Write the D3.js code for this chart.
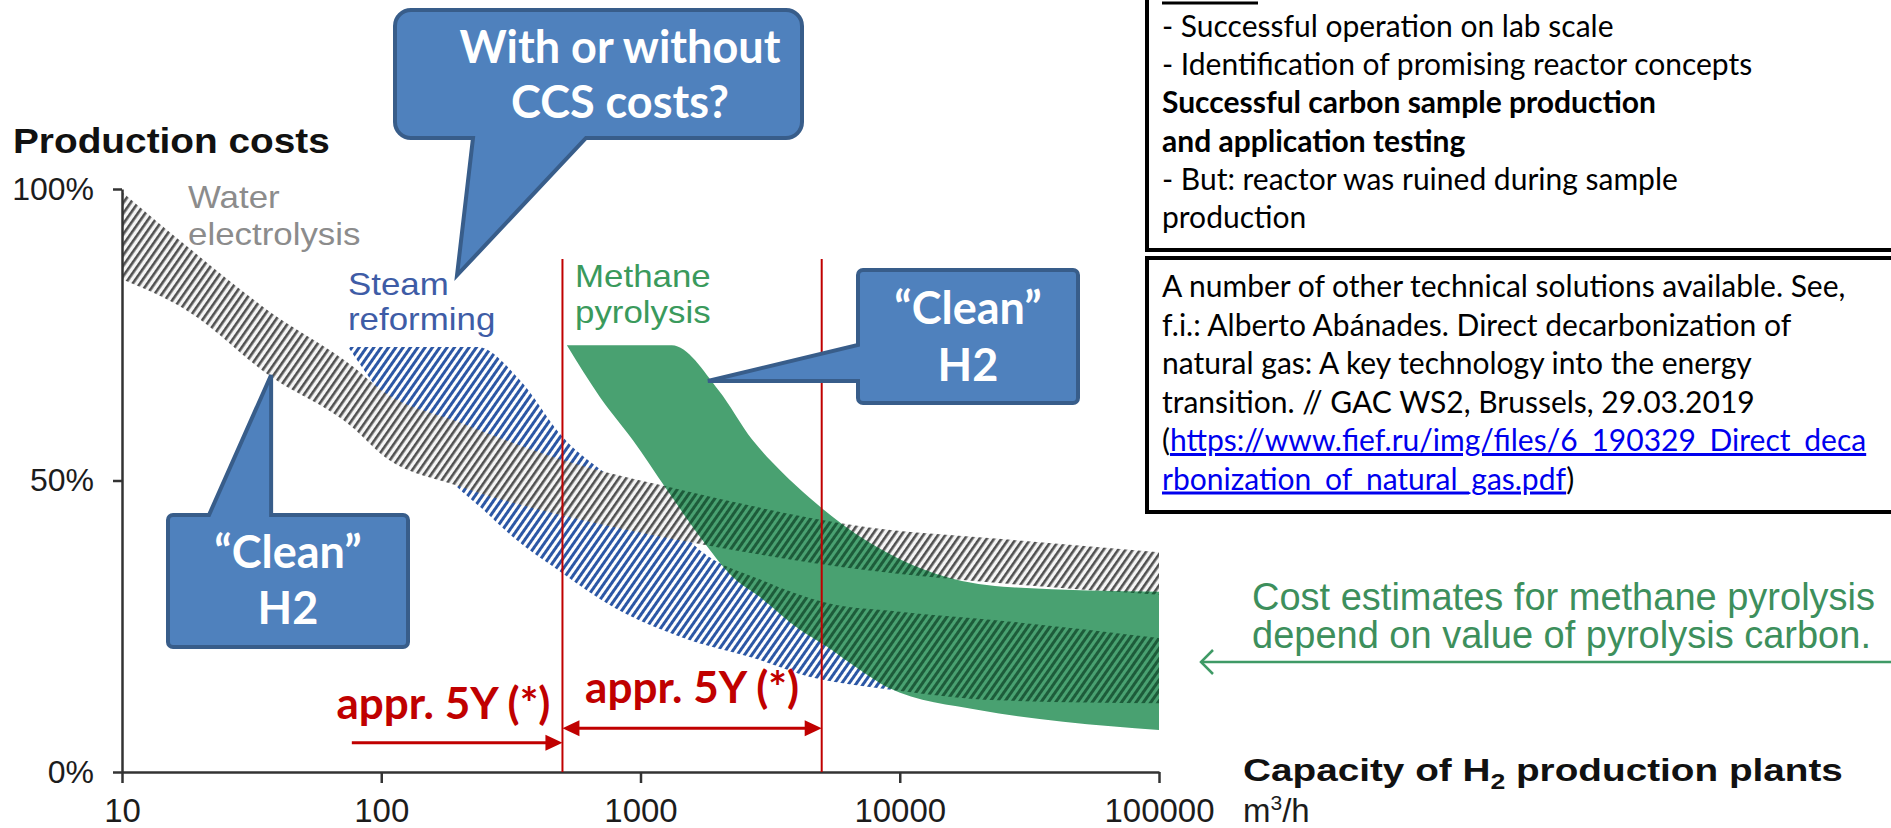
<!DOCTYPE html>
<html>
<head>
<meta charset="utf-8">
<script src="https://cdn.jsdelivr.net/npm/d3@7"></script>
<style>
	body { margin: 0; background: #fff; }
	svg { display: block; }
</style>
</head>
<body>
<div id="container"></div>
<script>
//// Production costs of H2 vs. plant capacity ////

// Axis ticks
const xTicks = [10, 100, 1000, 10000, 100000];
const yTicks = [0, 50, 100];

// Band edges, [capacity in m3/h, production cost in %]
const electrolysisUpper = [[10, 99.5], [18, 90], [37, 79], [78, 69.5], [100, 65.5], [200, 60], [500, 53.5], [1400, 48.5], [7500, 42], [24000, 40], [100000, 37.7]];
const electrolysisLower = [[10, 84.5], [18, 79], [37, 68], [78, 59], [100, 54.5], [200, 49], [500, 44], [1400, 39.8], [7500, 34.6], [24000, 32.4], [100000, 30.4]];

const reformingUpper = [[74.5, 72.9], [235, 72.9], [343, 67.2], [500, 57.5], [800, 50], [1265, 43.7], [1700, 38], [2900, 33], [5250, 29], [10000, 27.5], [24000, 26], [100000, 23]];
const reformingLower = [[74.5, 72.9], [196, 48.9], [240, 45.5], [322, 40.3], [500, 34.1], [783, 28.3], [1420, 23.2], [2890, 19.2], [4510, 16.3], [7030, 14.8], [8930, 14.2], [24000, 12.3], [100000, 11.8]];

const pyrolysisUpper = [[520, 73.2], [1320, 73.2], [2000, 65.5], [2700, 57], [3500, 51.5], [4500, 47], [6000, 42.5], [10000, 36.5], [15000, 33.5], [27000, 31.7], [100000, 30.9]];
const pyrolysisLower = [[520, 73.2], [698, 64.3], [935, 56.9], [1265, 48.4], [1698, 40.3], [2275, 33.4], [2890, 30], [4124, 24.4], [5250, 21.5], [7030, 17.5], [9000, 14.5], [20400, 10.6], [42700, 8.6], [100000, 7.2]];

// Time markers (m3/h) and arrows [from, to, cost %]
const markers = [500, 5000];
const arrowSingle = [77, 500, 5];
const arrowDouble = [500, 5000, 7.5];

// Texts
const boxOneLines = [
	{ t: "- Successful operation on lab scale", b: false },
	{ t: "- Identification of promising reactor concepts", b: false },
	{ t: "Successful carbon sample production", b: true },
	{ t: "and application testing", b: true },
	{ t: "- But: reactor was ruined during sample", b: false },
	{ t: "production", b: false }
];
const boxTwoLines = [
	"A number of other technical solutions available. See,",
	"f.i.: Alberto Abánades. Direct decarbonization of",
	"natural gas: A key technology into the energy",
	"transition. // GAC WS2, Brussels, 29.03.2019"
];
const linkParts = ["https://www.fief.ru/img/files/6_190329_Direct_deca", "rbonization_of_natural_gas.pdf"];
const greenNote = ["Cost estimates for methane pyrolysis", "depend on value of pyrolysis carbon."];

const width = 1891, height = 828;
const ARIAL = "'Liberation Sans', Arial, sans-serif";
const CALIBRI = "Lato, 'Open Sans', sans-serif";

const svg = d3.select("#container").append("svg")
	.attr("width", width)
	.attr("height", height)
	.attr("viewBox", [0, 0, width, height]);

svg.append("rect").attr("width", width).attr("height", height).attr("fill", "#fff");

const x = d3.scaleLog().domain([10, 100000]).range([122, 1159]);
const y = d3.scaleLinear().domain([0, 100]).range([772, 189]);

// stretch text horizontally (source picture is wider than plain Arial)
function stretch(sel, k) {
	sel.each(function () {
		const t = d3.select(this);
		const x0 = +t.attr("x"), y0 = +t.attr("y");
		t.attr("x", 0).attr("y", 0).attr("transform", `translate(${x0},${y0}) scale(${k},1)`);
	});
}
function fitWidth(sel, w) {
	sel.each(function () {
		stretch(d3.select(this), w / this.getComputedTextLength());
	});
}

//// Hatch patterns ////
const defs = svg.append("defs");
function hatch(id, bg, stroke, w) {
	const p = defs.append("pattern")
		.attr("id", id)
		.attr("patternUnits", "userSpaceOnUse")
		.attr("width", 6).attr("height", 6)
		.attr("patternTransform", "rotate(35)");
	if (bg) p.append("rect").attr("width", 6).attr("height", 6).attr("fill", bg);
	p.append("rect").attr("width", w).attr("height", 6).attr("fill", stroke);
}
hatch("hGray", "#f5f5f5", "#505050", 2.6);
hatch("hBlue", "#ffffff", "#2c57a5", 3);
hatch("hDark", null, "#1d5c3a", 3);

// area under an upper edge, and area above a lower edge (used as clip)
const under = d3.area().curve(d3.curveMonotoneX)
	.x(d => x(d[0])).y0(y(0)).y1(d => y(d[1]));
const above = d3.area().curve(d3.curveMonotoneX)
	.x(d => x(d[0])).y0(y(110)).y1(d => y(d[1]));

[["cE", electrolysisLower], ["cS", reformingLower], ["cM", pyrolysisLower]].forEach(([id, lower]) => {
	defs.append("clipPath").attr("id", id).append("path").attr("d", above(lower));
});

const greenMask = defs.append("mask").attr("id", "mGreen")
	.attr("maskUnits", "userSpaceOnUse")
	.attr("x", 0).attr("y", 0).attr("width", width).attr("height", height);
greenMask.append("path").attr("d", under(pyrolysisUpper)).attr("clip-path", "url(#cM)").attr("fill", "#fff");

//// Bands ////
const plot = svg.append("g");
plot.append("path").attr("d", under(reformingUpper)).attr("clip-path", "url(#cS)").attr("fill", "url(#hBlue)");
plot.append("path").attr("d", under(electrolysisUpper)).attr("clip-path", "url(#cE)").attr("fill", "url(#hGray)");
plot.append("path").attr("d", under(pyrolysisUpper)).attr("clip-path", "url(#cM)").attr("fill", "#49a171");

const overlay = plot.append("g").attr("mask", "url(#mGreen)");
overlay.append("path").attr("d", under(reformingUpper)).attr("clip-path", "url(#cS)").attr("fill", "url(#hDark)");
overlay.append("path").attr("d", under(electrolysisUpper)).attr("clip-path", "url(#cE)").attr("fill", "url(#hDark)");

//// Axes ////
const xAxis = svg.append("g")
	.attr("transform", `translate(0,${y(0)})`)
	.call(d3.axisBottom(x).tickValues(xTicks).tickFormat(d3.format("d"))
		.tickSize(11).tickSizeOuter(0).tickPadding(16));
const yAxis = svg.append("g")
	.attr("transform", `translate(${x(10)},0)`)
	.call(d3.axisLeft(y).tickValues(yTicks).tickFormat(d => d + "%")
		.tickSize(9).tickSizeOuter(0).tickPadding(19));
[xAxis, yAxis].forEach(a => {
	a.attr("font-family", ARIAL).attr("font-size", 33);
	a.select(".domain").attr("stroke", "#333").attr("stroke-width", 2.5);
	a.selectAll(".tick line").attr("stroke", "#333").attr("stroke-width", 2.5);
	a.selectAll(".tick text").attr("fill", "#1c1c1c");
});
yAxis.selectAll(".tick text").attr("font-size", 32);

svg.append("text").attr("x", 13).attr("y", 153)
	.attr("font-family", ARIAL).attr("font-weight", "bold").attr("font-size", 35).attr("fill", "#111")
	.text("Production costs")
	.call(fitWidth, 317);

const cap = svg.append("text").attr("x", 1243).attr("y", 781)
	.attr("font-family", ARIAL).attr("font-weight", "bold").attr("font-size", 32).attr("fill", "#111");
cap.append("tspan").text("Capacity of H");
cap.append("tspan").attr("font-size", 22).attr("dy", 8).text("2");
cap.append("tspan").attr("dy", -8).text(" production plants");
cap.call(fitWidth, 600);

const unit = svg.append("text").attr("x", 1243).attr("y", 822)
	.attr("font-family", ARIAL).attr("font-size", 33).attr("fill", "#1c1c1c");
unit.append("tspan").text("m");
unit.append("tspan").attr("font-size", 21).attr("dy", -12).text("3");
unit.append("tspan").attr("dy", 12).text("/h");

//// Band labels ////
const bandLabels = [
	{ lines: ["Water", "electrolysis"], x: 188, y: [208, 245], c: "#8c8c8c" },
	{ lines: ["Steam", "reforming"], x: 348, y: [295, 330], c: "#3e5ca6" },
	{ lines: ["Methane", "pyrolysis"], x: 575, y: [287, 323], c: "#3a9a5c" }
];
bandLabels.forEach(l => {
	l.lines.forEach((s, i) => {
		svg.append("text").attr("x", l.x).attr("y", l.y[i])
			.attr("font-family", ARIAL).attr("font-size", 32).attr("fill", l.c)
			.text(s).call(stretch, 1.09);
	});
});

//// Time markers ////
const red = "#c00000";
svg.selectAll(".marker").data(markers).enter().append("line")
	.attr("class", "marker")
	.attr("x1", d => x(d)).attr("x2", d => x(d))
	.attr("y1", y(88)).attr("y2", y(0))
	.attr("stroke", red).attr("stroke-width", 2);

function arrowHead(px, py, dir) {
	svg.append("path")
		.attr("d", `M${px},${py} L${px - dir * 17},${py - 8} L${px - dir * 17},${py + 8} Z`)
		.attr("fill", red);
}
svg.append("line")
	.attr("x1", x(arrowSingle[0])).attr("x2", x(arrowSingle[1]) - 10)
	.attr("y1", y(arrowSingle[2])).attr("y2", y(arrowSingle[2]))
	.attr("stroke", red).attr("stroke-width", 3);
arrowHead(x(arrowSingle[1]), y(arrowSingle[2]), 1);
svg.append("line")
	.attr("x1", x(arrowDouble[0]) + 10).attr("x2", x(arrowDouble[1]) - 10)
	.attr("y1", y(arrowDouble[2])).attr("y2", y(arrowDouble[2]))
	.attr("stroke", red).attr("stroke-width", 3);
arrowHead(x(arrowDouble[0]), y(arrowDouble[2]), -1);
arrowHead(x(arrowDouble[1]), y(arrowDouble[2]), 1);

svg.append("text").attr("x", x(500) - 12).attr("y", 719)
	.attr("text-anchor", "end")
	.attr("font-family", CALIBRI).attr("font-weight", "bold").attr("font-size", 44).attr("fill", red)
	.text("appr. 5Y (*)");
svg.append("text").attr("x", (x(500) + x(5000)) / 2).attr("y", 703)
	.attr("text-anchor", "middle")
	.attr("font-family", CALIBRI).attr("font-weight", "bold").attr("font-size", 44).attr("fill", red)
	.text("appr. 5Y (*)");

//// Callouts ////
const calloutFill = "#4f81bd", calloutStroke = "#385d8a";
function roundedBox(L, T, R, B, r, tail) {
	// tail points are inserted clockwise on the given side
	const p = d3.path();
	p.moveTo(L + r, T);
	if (tail.side === "top") tail.pts.forEach(q => p.lineTo(q[0], q[1]));
	p.lineTo(R - r, T);
	p.arcTo(R, T, R, T + r, r);
	p.lineTo(R, B - r);
	p.arcTo(R, B, R - r, B, r);
	if (tail.side === "bottom") tail.pts.forEach(q => p.lineTo(q[0], q[1]));
	p.lineTo(L + r, B);
	p.arcTo(L, B, L, B - r, r);
	if (tail.side === "left") tail.pts.forEach(q => p.lineTo(q[0], q[1]));
	p.lineTo(L, T + r);
	p.arcTo(L, T, L + r, T, r);
	p.closePath();
	return p.toString();
}
const callouts = [
	{ box: [395, 10, 802, 138], r: 16, cx: 620, lines: ["With or without", "CCS costs?"], base: [63, 118],
		tail: { side: "bottom", pts: [[586, 138], [x(196), y(85.2)], [473, 138]] } },
	{ box: [168, 515, 408, 647], r: 5, cx: 288, lines: ["\u201cClean\u201d", "H2"], base: [568, 624],
		tail: { side: "top", pts: [[209, 515], [x(37.6), y(68.1)], [x(37.6), 515]] } },
	{ box: [858, 270, 1078, 403], r: 5, cx: 968, lines: ["\u201cClean\u201d", "H2"], base: [324, 381],
		tail: { side: "left", pts: [[858, 381], [x(1820), 381], [858, 345]] } }
];
callouts.forEach(c => {
	const [L, T, R, B] = c.box;
	svg.append("path").attr("d", roundedBox(L, T, R, B, c.r, c.tail))
		.attr("fill", calloutFill).attr("stroke", calloutStroke).attr("stroke-width", 4)
		.attr("stroke-linejoin", "miter");
	c.lines.forEach((s, i) => {
		svg.append("text").attr("x", c.cx).attr("y", c.base[i])
			.attr("text-anchor", "middle")
			.attr("font-family", CALIBRI).attr("font-weight", "bold").attr("font-size", 45).attr("fill", "#fff")
			.text(s);
	});
});

//// Right text boxes ////
const boxX = 1147, textX = 1162;
svg.append("rect").attr("x", boxX).attr("y", -10).attr("width", 800).attr("height", 260)
	.attr("fill", "#fff").attr("stroke", "#000").attr("stroke-width", 4);
svg.append("rect").attr("x", boxX).attr("y", 258).attr("width", 800).attr("height", 254)
	.attr("fill", "#fff").attr("stroke", "#000").attr("stroke-width", 4);
svg.append("line").attr("x1", textX).attr("x2", textX + 96).attr("y1", 3).attr("y2", 3)
	.attr("stroke", "#000").attr("stroke-width", 3);

boxOneLines.forEach((l, i) => {
	svg.append("text").attr("x", textX).attr("y", 37 + i * 38.2)
		.attr("font-family", CALIBRI).attr("font-size", 30).attr("fill", "#000")
		.attr("font-weight", l.b ? "bold" : "normal")
		.text(l.t);
});
boxTwoLines.forEach((l, i) => {
	svg.append("text").attr("x", textX).attr("y", 297 + i * 38.5)
		.attr("font-family", CALIBRI).attr("font-size", 30).attr("fill", "#000")
		.text(l);
});
const link1 = svg.append("text").attr("x", textX).attr("y", 297 + 4 * 38.5)
	.attr("font-family", CALIBRI).attr("font-size", 30).attr("fill", "#000");
link1.append("tspan").text("(");
link1.append("tspan").attr("fill", "#0000ee").attr("text-decoration", "underline").text(linkParts[0]);
const link2 = svg.append("text").attr("x", textX).attr("y", 297 + 5 * 38.5)
	.attr("font-family", CALIBRI).attr("font-size", 30).attr("fill", "#000");
link2.append("tspan").attr("fill", "#0000ee").attr("text-decoration", "underline").text(linkParts[1]);
link2.append("tspan").text(")");

//// Green note ////
const green = "#3d8f5c";
greenNote.forEach((s, i) => {
	svg.append("text").attr("x", 1252).attr("y", 610 + i * 38)
		.attr("font-family", ARIAL).attr("font-size", 38).attr("fill", green)
		.text(s);
});
svg.append("line").attr("x1", 1201).attr("x2", width).attr("y1", 662).attr("y2", 662)
	.attr("stroke", "#3f9a66").attr("stroke-width", 2.5);
svg.append("path").attr("d", "M1213,650 L1201,662 L1213,674")
	.attr("fill", "none").attr("stroke", "#3f9a66").attr("stroke-width", 2.5);
</script>
</body>
</html>
